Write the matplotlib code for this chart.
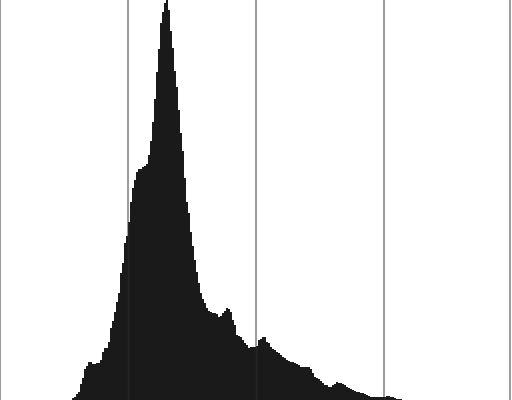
import numpy as np
import matplotlib
matplotlib.use("Agg")
import matplotlib.pyplot as plt

# Histogram of intensity levels 0..255 (heights in relative count units)
first_level = 36
counts = [
    2, 3, 6, 8, 16, 22, 31, 34, 38, 38, 36, 36, 37, 37, 40, 48, 52, 52, 58, 72,
    79, 88, 98, 107, 127, 137, 157, 164, 178, 198, 212, 220, 228, 231, 231, 233, 234, 236, 245, 259,
    278, 301, 328, 351, 377, 388, 397, 400, 390, 369, 352, 329, 313, 290, 267, 249, 222, 198, 187, 168,
    154, 140, 128, 117, 107, 101, 97, 92, 89, 88, 87, 87, 86, 83, 84, 87, 89, 92, 91, 88,
    80, 75, 65, 64, 63, 60, 57, 55, 52, 53, 53, 53, 54, 60, 61, 63, 63, 58, 57, 53,
    51, 50, 48, 47, 45, 43, 42, 40, 39, 38, 38, 37, 36, 35, 33, 33, 33, 33, 33, 31,
    27, 23, 22, 21, 19, 17, 15, 15, 13, 13, 15, 16, 18, 17, 17, 16, 15, 13, 12, 11,
    10, 9, 8, 8, 7, 7, 6, 5, 4, 3, 3, 3, 3, 3, 3, 3, 3, 4, 4, 3,
    3, 2, 1, 1, 1,
]
grid_levels = [0, 64, 128, 192, 255]

hist = np.zeros(256)
hist[first_level:first_level + len(counts)] = counts
edges = np.arange(257)

fig = plt.figure(figsize=(5.12, 4.0), dpi=100)
ax = fig.add_axes([0, 0, 1, 1])
for g in grid_levels:
    ax.axvline(g, color="#8c8c8c", lw=1.2, zorder=1)
ax.stairs(hist, edges, fill=True, color="#1a1a1a", zorder=2, lw=0)
for g in grid_levels:
    ax.axvline(g, color="#8c8c8c", lw=1.0, alpha=0.12, zorder=3)
ax.set_xlim(0, 256)
ax.set_ylim(0, max(counts))
ax.axis("off")
fig.savefig("out.png", dpi=100)
